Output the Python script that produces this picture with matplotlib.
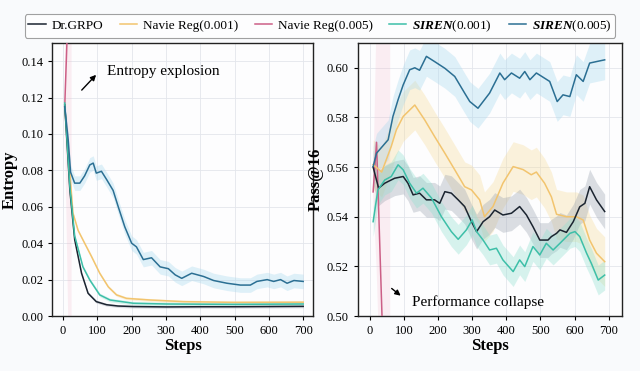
import numpy as np
import matplotlib
matplotlib.use("Agg")
import matplotlib.pyplot as plt

plt.rcParams['font.family'] = ['Liberation Serif', 'DejaVu Serif']
plt.rcParams['mathtext.fontset'] = 'custom'
plt.rcParams['mathtext.rm'] = 'Liberation Serif'
plt.rcParams['mathtext.it'] = 'Liberation Serif:italic'
plt.rcParams['mathtext.bf'] = 'Liberation Serif:bold'
plt.rcParams['mathtext.bfit'] = 'Liberation Serif:italic:bold'

# ---------------- data: left panel (Entropy) ----------------
grpo_ent_x = [5, 20, 34, 54, 73, 97, 127, 160, 205, 302, 400, 497, 600, 700]
grpo_ent_y = [0.116, 0.069, 0.042, 0.0235, 0.0125, 0.0079, 0.0062, 0.0055, 0.0052, 0.0050, 0.0051, 0.0051, 0.0052, 0.0053]

reg1_ent_x = [5, 20, 29, 44, 63, 83, 107, 132, 156, 185, 254, 351, 497, 700]
reg1_ent_y = [0.115, 0.0785, 0.0565, 0.047, 0.040, 0.0327, 0.0235, 0.016, 0.0116, 0.0097, 0.0088, 0.0079, 0.0075, 0.0076]

reg5_ent_x = [5, 15, 25]
reg5_ent_y = [0.115, 0.17, 0.30]
reg5_ent_lo = [0.110, 0.0, 0.0]
reg5_ent_hi = [0.120, 0.40, 0.60]

siren1_ent_x = [5, 20, 34, 58, 78, 107, 137, 205, 302, 497, 700]
siren1_ent_y = [0.117, 0.071, 0.044, 0.027, 0.0198, 0.0116, 0.0088, 0.0070, 0.0066, 0.0064, 0.0066]

siren5_ent_x = [5, 15, 22, 34, 49, 63, 78, 88, 97, 112, 127, 146, 161, 180, 200, 214, 234,
                258, 283, 307, 327, 346, 375, 410, 439, 478, 517, 546, 565, 595, 614,
                634, 653, 673, 700]
siren5_ent_y = [0.115, 0.097, 0.079, 0.073, 0.073, 0.077, 0.083, 0.084, 0.0785, 0.0795, 0.075,
                0.069, 0.060, 0.049, 0.040, 0.038, 0.031, 0.032, 0.027, 0.026, 0.0226,
                0.0207, 0.0235, 0.0217, 0.0195, 0.018, 0.017, 0.017, 0.019, 0.020, 0.019,
                0.020, 0.018, 0.0195, 0.019]

# ---------------- data: right panel (Pass@16) ----------------
grpo_pass_x = [10, 26, 44, 73, 98, 112, 127, 146, 166, 190, 205, 220, 239, 259, 278, 298,
               313, 332, 351, 366, 390, 415, 439, 459, 478, 498, 522, 532, 547, 557, 576,
               596, 615, 630, 644, 664, 688]
grpo_pass_y = [0.560, 0.5515, 0.5535, 0.5555, 0.5562, 0.5535, 0.5488, 0.5495, 0.5468, 0.5468,
               0.5454, 0.5501, 0.5495, 0.5468, 0.5441, 0.538, 0.534, 0.538, 0.540, 0.5427,
               0.5407, 0.5414, 0.5441, 0.5407, 0.536, 0.5306, 0.5306, 0.532, 0.5333, 0.5347,
               0.5337, 0.538, 0.544, 0.5454, 0.5521, 0.5468, 0.5421]

reg1_pass_x = [10, 35, 63, 78, 98, 132, 161, 190, 220, 249, 278, 298, 322, 336, 361, 390,
               420, 449, 473, 488, 512, 532, 547, 576, 605, 625, 644, 664, 688]
reg1_pass_y = [0.561, 0.558, 0.5683, 0.575, 0.5804, 0.585, 0.579, 0.5723, 0.5656, 0.5589,
               0.5521, 0.5508, 0.5468, 0.540, 0.5441, 0.5535, 0.5602, 0.559, 0.5569, 0.558,
               0.5535, 0.548, 0.541, 0.540, 0.540, 0.5387, 0.5306, 0.5253, 0.5219]

reg5_pass_x = [10, 20, 36, 60]
reg5_pass_y = [0.550, 0.570, 0.500, 0.400]
reg5_pass_lo = [0.548, 0.520, 0.450, 0.300]
reg5_pass_hi = [0.552, 0.620, 0.620, 0.620]

siren1_pass_x = [10, 24, 44, 63, 83, 98, 117, 137, 156, 181, 210, 239, 259, 283, 300, 313,
                 332, 351, 371, 390, 420, 439, 454, 478, 498, 517, 537, 557, 586, 601,
                 615, 635, 649, 669, 688]
siren1_pass_y = [0.538, 0.5508, 0.5548, 0.5562, 0.5609, 0.5589, 0.5535, 0.5495, 0.5515,
                 0.5475, 0.540, 0.534, 0.5309, 0.5347, 0.5387, 0.534, 0.5306, 0.5266,
                 0.5273, 0.5226, 0.5179, 0.5226, 0.5199, 0.528, 0.5246, 0.5293, 0.5266,
                 0.5293, 0.5333, 0.534, 0.532, 0.5253, 0.5212, 0.5145, 0.5165]

siren5_pass_x = [10, 20, 54, 68, 83, 98, 117, 132, 146, 166, 190, 220, 249, 278, 293, 317,
                 351, 381, 395, 415, 439, 454, 469, 488, 527, 549, 566, 586, 605, 625,
                 644, 664, 688]
siren5_pass_y = [0.5602, 0.5656, 0.571, 0.5804, 0.5871, 0.5931, 0.5992, 0.600, 0.599,
                 0.6046, 0.6025, 0.5998, 0.5965, 0.5898, 0.5864, 0.5837, 0.5898, 0.5979,
                 0.5952, 0.5979, 0.5958, 0.5985, 0.5952, 0.5979, 0.5945, 0.5864, 0.5891,
                 0.5884, 0.5972, 0.5945, 0.6019, 0.6025, 0.6032]

labels = ["Dr.GRPO", "Navie Reg(0.001)", "Navie Reg(0.005)",
          r"$\mathbfit{SIREN}$(0.001)", r"$\mathbfit{SIREN}$(0.005)"]
colors = ["#1b2430", "#f2c46e", "#cc5f86", "#3dbfa8", "#2b6f93"]
band_colors = ["#9aa3b0", "#f7dc9a", "#f3b6c9", "#8fe0d0", "#a6d8ee"]
band_alpha = [0.35, 0.35, 0.22, 0.35, 0.35]
band_ent = [0.0008, 0.0008, None, 0.0010, 0.004]
band_pass = [0.007, 0.010, None, 0.006, 0.008]

fig = plt.figure(figsize=(6.4, 3.71), dpi=100, facecolor="#f9fafc")
axL = fig.add_axes([0.0813, 0.1482, 0.408, 0.736])
axR = fig.add_axes([0.559, 0.1482, 0.4125, 0.736])

left_series = [(grpo_ent_x, grpo_ent_y), (reg1_ent_x, reg1_ent_y), (reg5_ent_x, reg5_ent_y),
               (siren1_ent_x, siren1_ent_y), (siren5_ent_x, siren5_ent_y)]
right_series = [(grpo_pass_x, grpo_pass_y), (reg1_pass_x, reg1_pass_y), (reg5_pass_x, reg5_pass_y),
                (siren1_pass_x, siren1_pass_y), (siren5_pass_x, siren5_pass_y)]

order = [2, 1, 0, 3, 4]
handles = [None] * 5
for ax, series, bands, pink_lo, pink_hi in [
        (axL, left_series, band_ent, reg5_ent_lo, reg5_ent_hi),
        (axR, right_series, band_pass, reg5_pass_lo, reg5_pass_hi)]:
    ax.set_facecolor("#fdfdfe")
    for i in order:
        x, y = np.array(series[i][0]), np.array(series[i][1])
        if bands[i] is None:
            ax.fill_between(x, pink_lo, pink_hi, color=band_colors[i], alpha=band_alpha[i], lw=0, zorder=1)
        else:
            ax.fill_between(x, y - bands[i], y + bands[i], color=band_colors[i], alpha=band_alpha[i], lw=0, zorder=1)
        ln, = ax.plot(x, y, color=colors[i], lw=1.1, zorder=3)
        handles[i] = ln
    ax.grid(True, color="#e3e6ec", lw=0.6)
    ax.set_axisbelow(True)
    for s in ax.spines.values():
        s.set_linewidth(1.0)
        s.set_color("#222222")
    ax.tick_params(labelsize=9, length=3, width=0.8)
    ax.set_xticks([0, 100, 200, 300, 400, 500, 600, 700])
    ax.set_xlabel("Steps", fontsize=12, fontweight="bold", labelpad=1)

axL.set_xlim(-32, 729)
axL.set_ylim(0, 0.15)
axL.set_yticks([0.00, 0.02, 0.04, 0.06, 0.08, 0.10, 0.12, 0.14])
axL.yaxis.set_major_formatter(matplotlib.ticker.FormatStrFormatter("%.2f"))
axL.set_ylabel("Entropy", fontsize=12, fontweight="bold", labelpad=2)

axR.set_xlim(-35, 738)
axR.set_ylim(0.50, 0.61)
axR.set_yticks([0.50, 0.52, 0.54, 0.56, 0.58, 0.60])
axR.yaxis.set_major_formatter(matplotlib.ticker.FormatStrFormatter("%.2f"))
axR.set_ylabel("Pass@16", fontsize=12, fontweight="bold", labelpad=2)

axL.annotate("", xy=(102, 0.1336), xytext=(49, 0.123),
             arrowprops=dict(arrowstyle="-|>", color="black", lw=1.0, mutation_scale=8))
axL.text(127, 0.1345, "Entropy explosion", fontsize=11, va="center", ha="left")

axR.annotate("", xy=(97, 0.5075), xytext=(58, 0.5118),
             arrowprops=dict(arrowstyle="-|>", color="black", lw=1.0, mutation_scale=8))
axR.text(125, 0.5056, "Performance collapse", fontsize=11, va="center", ha="left")

leg = fig.legend(handles, labels, loc="center", bbox_to_anchor=(0.5, 0.93), ncol=5,
                 fontsize=9.5, frameon=True, handlelength=1.3, handletextpad=0.45,
                 columnspacing=1.25, borderpad=0.3, fancybox=True)
leg.get_frame().set_edgecolor("#8a8a8a")
leg.get_frame().set_linewidth(0.8)
leg.get_frame().set_facecolor("white")

fig.savefig("out.png", dpi=100, facecolor=fig.get_facecolor())
